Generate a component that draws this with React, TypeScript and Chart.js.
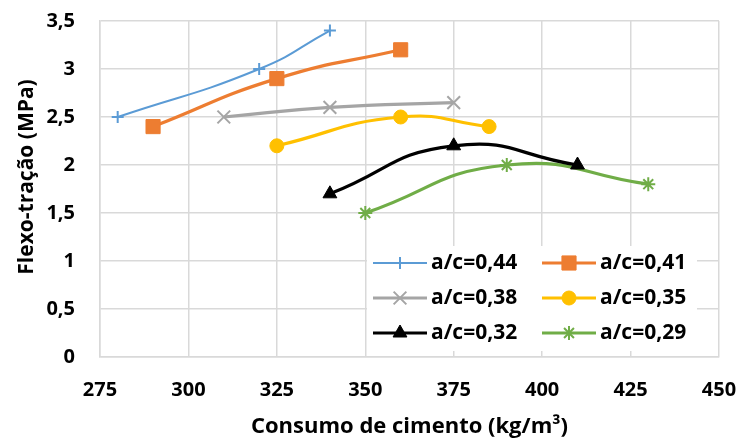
import React, { useEffect, useRef } from "react";
import { Chart, registerables } from "chart.js";
import { drawPoint } from "chart.js/helpers";

Chart.register(...registerables);

const FONT = "'Open Sans', Lato, sans-serif";

// Flexural tensile strength vs. cement content, one series per water/cement ratio
const seriesLabels = ["a/c=0,44", "a/c=0,41", "a/c=0,38", "a/c=0,35", "a/c=0,32", "a/c=0,29"];

const cement044 = [280, 320, 340];
const flex044 = [2.5, 3.0, 3.4];

const cement041 = [290, 325, 360];
const flex041 = [2.4, 2.9, 3.2];

const cement038 = [310, 340, 375];
const flex038 = [2.5, 2.6, 2.65];

const cement035 = [325, 360, 385];
const flex035 = [2.2, 2.5, 2.4];

const cement032 = [340, 375, 410];
const flex032 = [1.7, 2.2, 2.0];

const cement029 = [350, 390, 430];
const flex029 = [1.5, 2.0, 1.8];

const xTicks = [275, 300, 325, 350, 375, 400, 425, 450];
const yTicks = [0, 0.5, 1, 1.5, 2, 2.5, 3, 3.5];

const xTitle = "Consumo de cimento (kg/m³)";
const yTitle = "Flexo-tração (MPa)";

const seriesX = [cement044, cement041, cement038, cement035, cement032, cement029];
const seriesY = [flex044, flex041, flex038, flex035, flex032, flex029];

const styles = [
  { color: "#5B9BD5", width: 2, point: "cross", radius: 6, pointBorder: 2 },
  { color: "#ED7D31", width: 3.2, point: "rect", radius: 10, pointBorder: 1 },
  { color: "#A5A5A5", width: 3.2, point: "crossRot", radius: 9, pointBorder: 2 },
  { color: "#FFC000", width: 3.2, point: "circle", radius: 7, pointBorder: 1 },
  { color: "#000000", width: 3.2, point: "triangle", radius: 8, pointBorder: 1 },
  { color: "#70AD47", width: 3.2, point: "star", radius: 7, pointBorder: 2 },
];

const fmt = (v: number) => String(v).replace(".", ",");

// Keep tick-label overhang from shrinking the plot area
const noScalePadding = (scale: any) => {
  scale.paddingTop = 0;
  scale.paddingBottom = 0;
  scale.paddingLeft = 0;
  scale.paddingRight = 0;
};

// Boxed legend drawn inside the plot area (two columns, three rows)
const insideLegend = {
  id: "insideLegend",
  afterDatasetsDraw(chart: any) {
    const { ctx, chartArea } = chart;
    const boxL = chartArea.left + 267;
    const boxT = chartArea.top + 225;
    const boxW = 330;
    const boxH = 105;
    ctx.save();
    ctx.fillStyle = "#ffffff";
    ctx.fillRect(boxL, boxT, boxW, boxH);
    ctx.font = `bold 21px ${FONT}`;
    ctx.textBaseline = "middle";
    ctx.textAlign = "left";
    chart.data.datasets.forEach((ds: any, i: number) => {
      const col = i % 2;
      const row = Math.floor(i / 2);
      const x0 = boxL + 6 + col * 169;
      const cy = boxT + 17 + row * 35;
      ctx.strokeStyle = ds.borderColor;
      ctx.lineWidth = ds.borderWidth;
      ctx.beginPath();
      ctx.moveTo(x0, cy);
      ctx.lineTo(x0 + 54, cy);
      ctx.stroke();
      ctx.fillStyle = ds.pointBackgroundColor;
      ctx.strokeStyle = ds.pointBorderColor;
      ctx.lineWidth = ds.pointBorderWidth;
      drawPoint(ctx, { pointStyle: ds.pointStyle, radius: ds.pointRadius, rotation: 0, borderWidth: ds.pointBorderWidth }, x0 + 27, cy);
      ctx.fillStyle = "#000000";
      ctx.fillText(ds.label, x0 + 58, cy);
    });
    ctx.restore();
  },
};

// Rotated y-axis title, placed a little above the plot's vertical centre
const yAxisTitle = {
  id: "yAxisTitle",
  afterDraw(chart: any) {
    const { ctx, chartArea } = chart;
    ctx.save();
    ctx.font = `bold 21px ${FONT}`;
    ctx.fillStyle = "#000000";
    ctx.textAlign = "center";
    ctx.textBaseline = "middle";
    ctx.translate(27, (chartArea.top + chartArea.bottom) / 2 - 12);
    ctx.rotate(-Math.PI / 2);
    ctx.fillText(yTitle, 0, 0);
    ctx.restore();
  },
};

export default function App() {
  const canvasRef = useRef<HTMLCanvasElement | null>(null);

  useEffect(() => {
    document.body.style.margin = "0";
    const canvas = canvasRef.current;
    if (!canvas) return;

    const datasets = seriesLabels.map((label, i) => ({
      label,
      data: seriesX[i].map((x, j) => ({ x, y: seriesY[i][j] })),
      borderColor: styles[i].color,
      backgroundColor: styles[i].color,
      borderWidth: styles[i].width,
      pointStyle: styles[i].point,
      pointRadius: styles[i].radius,
      pointHoverRadius: styles[i].radius,
      pointBackgroundColor: styles[i].color,
      pointBorderColor: styles[i].color,
      pointBorderWidth: styles[i].pointBorder,
      tension: 0.5,
      fill: false,
    }));

    const chart = new Chart(canvas, {
      type: "line",
      data: { datasets },
      plugins: [insideLegend, yAxisTitle],
      options: {
        animation: false,
        responsive: false,
        maintainAspectRatio: false,
        layout: { padding: { left: 0, right: 20, top: 21, bottom: 0 } },
        plugins: {
          legend: { display: false },
          tooltip: { enabled: false },
        },
        scales: {
          x: {
            type: "linear",
            min: xTicks[0],
            max: xTicks[xTicks.length - 1],
            afterBuildTicks: (scale: any) => {
              scale.ticks = xTicks.map((v) => ({ value: v }));
            },
            afterFit: (scale: any) => {
              scale.height = 84;
              noScalePadding(scale);
            },
            grid: { color: "#D9D9D9", lineWidth: 1.5, drawTicks: false },
            border: { color: "#D9D9D9", width: 1.5 },
            ticks: {
              padding: 21,
              color: "#000000",
              font: { family: FONT, size: 20, weight: "bold" },
              callback: (v: any) => String(v),
            },
            title: {
              display: true,
              text: xTitle,
              color: "#000000",
              font: { family: FONT, size: 22, weight: "bold" },
              padding: { top: 0, bottom: 1 },
            },
          },
          y: {
            type: "linear",
            min: yTicks[0],
            max: yTicks[yTicks.length - 1],
            afterBuildTicks: (scale: any) => {
              scale.ticks = yTicks.map((v) => ({ value: v }));
            },
            afterFit: (scale: any) => {
              scale.width = 100;
              noScalePadding(scale);
            },
            grid: { color: "#D9D9D9", lineWidth: 1.5, drawTicks: false },
            border: { color: "#D9D9D9", width: 1.5 },
            ticks: {
              padding: 25,
              color: "#000000",
              font: { family: FONT, size: 20, weight: "bold" },
              callback: (v: any) => fmt(Number(v)),
            },
          },
        },
      },
    } as any);

    return () => chart.destroy();
  }, []);

  return (
    <div style={{ width: 739, height: 441, background: "#ffffff" }}>
      <canvas ref={canvasRef} width={739} height={441} style={{ display: "block" }} />
    </div>
  );
}
